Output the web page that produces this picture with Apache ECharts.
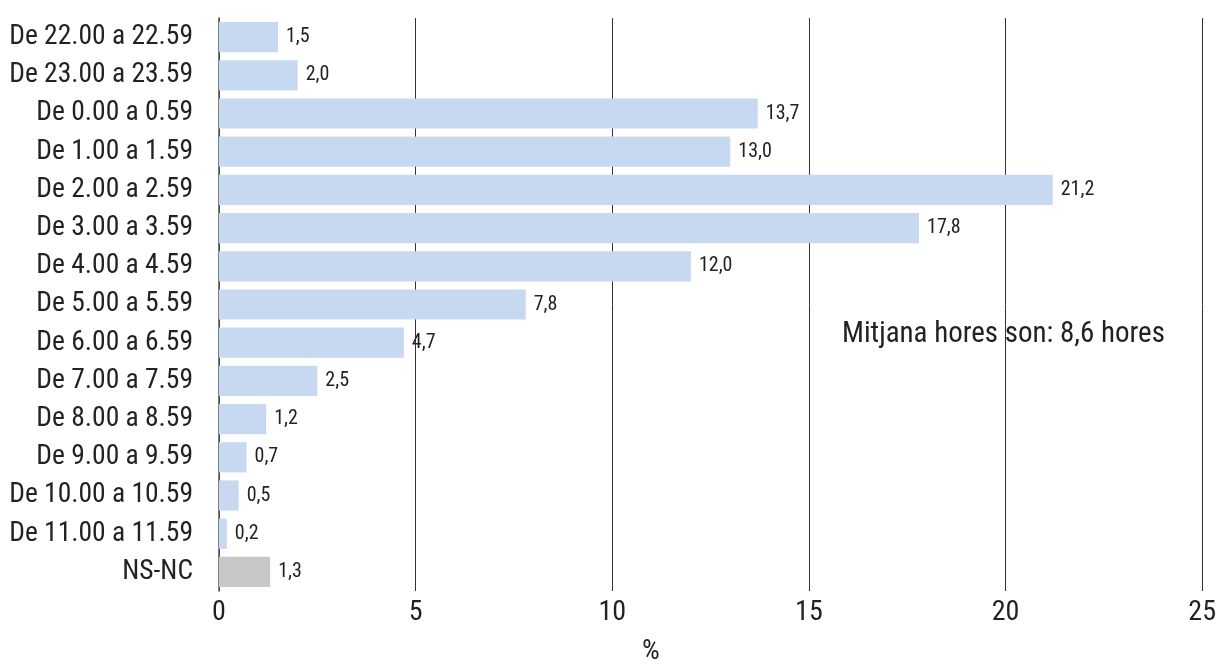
<!DOCTYPE html>
<html><head><meta charset="utf-8">
<script src="https://cdn.jsdelivr.net/npm/echarts@6/dist/echarts.min.js"></script>
<style>html,body{margin:0;padding:0;background:#fff}#c{width:1219px;height:665px}</style>
</head><body><div id="c"></div>
<script>
const categories = ["De 22.00 a 22.59","De 23.00 a 23.59","De 0.00 a 0.59","De 1.00 a 1.59","De 2.00 a 2.59","De 3.00 a 3.59","De 4.00 a 4.59","De 5.00 a 5.59","De 6.00 a 6.59","De 7.00 a 7.59","De 8.00 a 8.59","De 9.00 a 9.59","De 10.00 a 10.59","De 11.00 a 11.59","NS-NC"];
const values = [1.5,2.0,13.7,13.0,21.2,17.8,12.0,7.8,4.7,2.5,1.2,0.7,0.5,0.2,1.3];
const barColor = "#c6d9f1";
const nsColor = "#c8c8c8";
const note = "Mitjana hores son: 8,6 hores";
const axisName = "%";
const FONT = "'Liberation Sans Narrow','Roboto Condensed','Liberation Sans',sans-serif";

const chart = echarts.init(document.getElementById('c'));
chart.setOption({
  animation: false,
  textStyle: {fontFamily: FONT},
  grid: {left: 219, right: 15, top: 18, bottom: 74, containLabel: false},
  xAxis: {
    type: 'value', min: 0, max: 25, interval: 5,
    axisLine: {show: false}, axisTick: {show: false},
    splitLine: {show: true, lineStyle: {color: '#333', width: 1}},
    axisLabel: {color: '#222', fontSize: 28, fontFamily: FONT, margin: 8}
  },
  yAxis: {
    type: 'category', data: categories, inverse: true,
    axisLine: {show: true, lineStyle: {color: '#555', width: 1.5}},
    axisTick: {show: false},
    axisLabel: {color: '#222', fontSize: 27.5, fontFamily: FONT, margin: 26}
  },
  series: [{
    type: 'bar', barCategoryGap: '21%',
    data: values.map((v, i) => ({value: v, itemStyle: {color: categories[i] === 'NS-NC' ? nsColor : barColor}})),
    label: {show: true, position: 'right', distance: 8, color: '#222', fontSize: 20, fontFamily: FONT,
      formatter: p => p.value.toFixed(1).replace('.', ',')}
  }],
  graphic: [{
    type: 'text', left: 842, top: 320,
    style: {text: note, fill: '#222', font: "29px " + FONT}
  }, {
    type: 'text', left: 642, top: 638,
    style: {text: axisName, fill: '#222', font: "28px " + FONT}
  }]
});
</script></body></html>
